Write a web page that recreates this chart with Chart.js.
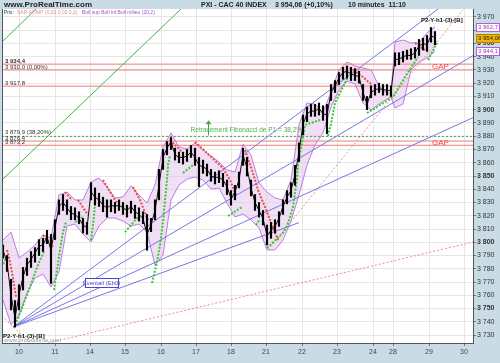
<!DOCTYPE html>
<html>
<head>
<meta charset="utf-8">
<title>PXI - CAC 40 INDEX</title>
<script src="https://cdn.jsdelivr.net/npm/chart.js@4.4.1/dist/chart.umd.min.js"></script>
<style>
  html, body { margin: 0; padding: 0; background: #c9dce5; }
  #wrap { position: relative; width: 500px; height: 363px; }
</style>
</head>
<body>
<div id="wrap"><canvas id="cac" width="500" height="363"></canvas></div>
<script>
'use strict';

// Axis labels
const dayLabels = ['10', '11', '14', '15', '16', '17', '18', '21', '22', '23', '24', '28', '29', '30'];
const dayTicks = [4, 13, 21.75, 30.5, 39.5, 48.25, 57, 65.75, 74.75, 83.5, 92.5, 97.5, 106.5, 115.25];
const priceTicks = [3730, 3740, 3750, 3760, 3770, 3780, 3790, 3800, 3810, 3820, 3830, 3840, 3850,
  3860, 3870, 3880, 3890, 3900, 3910, 3920, 3930, 3940, 3950, 3960, 3970];

// 10 minute bars (one sample every few bars)
const priceClose = [
  3794, 3785, 3760, 3743, 3760, 3774, 3783, 3787, 3792, 3797,
  3798, 3804, 3794, 3811, 3827, 3830, 3826, 3822, 3821, 3818,
  3813, 3811, 3838, 3834, 3832, 3828, 3826, 3828, 3827, 3828,
  3826, 3824, 3827, 3823, 3821, 3818, 3806, 3813, 3824, 3843,
  3864, 3871, 3876, 3866, 3864, 3864, 3865, 3868, 3864, 3858,
  3857, 3855, 3850, 3849, 3849, 3847, 3842, 3833, 3838, 3847,
  3866, 3856, 3841, 3830, 3824, 3818, 3805, 3809, 3812, 3818,
  3827, 3834, 3839, 3851, 3868, 3889, 3897, 3899, 3899, 3901,
  3897, 3896, 3913, 3918, 3924, 3928, 3929, 3927, 3926, 3925,
  3913, 3904, 3913, 3915, 3916, 3915, 3915, 3914, 3938, 3938,
  3940, 3941, 3941, 3943, 3948, 3950, 3949, 3956, 3954.06
];
const priceHigh = [
  3798, 3790, 3772, 3756, 3768, 3781, 3788, 3793, 3796, 3802,
  3803, 3809, 3806, 3817, 3832, 3836, 3832, 3827, 3826, 3823,
  3818, 3815, 3845, 3841, 3837, 3834, 3832, 3832, 3830, 3832,
  3830, 3828, 3831, 3828, 3826, 3823, 3821, 3818, 3832, 3855,
  3870, 3876, 3879, 3871, 3868, 3868, 3870, 3873, 3871, 3864,
  3862, 3859, 3855, 3853, 3854, 3852, 3847, 3839, 3843, 3853,
  3871, 3864, 3847, 3836, 3830, 3824, 3813, 3815, 3817, 3823,
  3832, 3839, 3845, 3858, 3875, 3896, 3902, 3904, 3904, 3905,
  3903, 3904, 3919, 3922, 3928, 3932, 3933, 3932, 3931, 3929,
  3919, 3910, 3918, 3919, 3920, 3919, 3919, 3918, 3943, 3943,
  3944, 3945, 3946, 3947, 3953, 3954, 3956, 3962, 3959
];
const priceLow = [
  3788, 3778, 3749, 3736, 3749, 3764, 3775, 3781, 3785, 3790,
  3793, 3799, 3769, 3802, 3821, 3824, 3821, 3817, 3817, 3814,
  3807, 3806, 3832, 3828, 3827, 3823, 3819, 3823, 3822, 3824,
  3821, 3819, 3822, 3818, 3816, 3814, 3794, 3808, 3817, 3832,
  3855, 3866, 3870, 3862, 3860, 3859, 3861, 3864, 3858, 3842,
  3852, 3850, 3846, 3844, 3845, 3842, 3836, 3828, 3832, 3841,
  3858, 3850, 3835, 3824, 3819, 3813, 3798, 3803, 3807, 3812,
  3821, 3829, 3834, 3843, 3861, 3881, 3891, 3895, 3895, 3896,
  3892, 3882, 3907, 3913, 3919, 3923, 3924, 3922, 3922, 3920,
  3907, 3900, 3909, 3911, 3913, 3911, 3911, 3910, 3933, 3934,
  3936, 3938, 3938, 3939, 3941, 3945, 3944, 3951, 3949
];

// Bollinger (20,2)
const bollX = [0, 2, 4, 6, 8, 10, 12, 14, 16, 18, 20, 22, 24, 26, 28, 30, 32, 34, 36, 38, 40, 42, 44, 46, 48,
  50, 52, 54, 56, 58, 60, 62, 64, 66, 68, 70, 72, 74, 76, 78, 80, 82, 84, 86, 88, 90, 92, 94, 96, 97,
  98, 100, 102, 104, 106, 108];
const bollUp = [3801.7, 3807.7, 3788.1, 3792.6, 3797.9, 3805.5, 3803.2, 3835.7, 3837.9, 3831.9, 3831.9,
  3845.5, 3848.5, 3841.7, 3833.4, 3834.2, 3842.5, 3835.7, 3829.6, 3843.2, 3872, 3882.5, 3871.9, 3870.4,
  3874.9, 3869.6, 3865.1, 3860.6, 3854.5, 3853, 3874, 3865.8, 3844.7, 3837.9, 3833.4, 3831.9, 3847,
  3888.5, 3905.1, 3904.3, 3897.5, 3913.4, 3930, 3936, 3933, 3931.5, 3930, 3917.9, 3912.6, 3912.6,
  3951.1, 3952.6, 3950.4, 3950.4, 3958, 3962.7];
const bollLow = [3756.4, 3738, 3745, 3761.7, 3773, 3776, 3766.2, 3777.6, 3812.3, 3813.8, 3806.2,
  3800.2, 3812.3, 3818.3, 3818.3, 3816, 3812.3, 3813.8, 3807.7, 3782.8, 3790.4, 3831.9, 3843.2, 3847.7,
  3849.2, 3847, 3840.2, 3840.9, 3829.6, 3819.1, 3821.3, 3816.8, 3810.8, 3794.2, 3794.2, 3801.7, 3816,
  3835.7, 3858.3, 3873.4, 3882.5, 3902.1, 3914.9, 3921.7, 3919.4, 3905.1, 3899.8, 3904.3, 3908.1, 3909.6,
  3901.3, 3904.3, 3930, 3936, 3939.1, 3944.1];

// SAR AT/MP (null = break between runs)
const sarGreenX = [0, 0.75, null, 3, 4.25, 5.5, 6.75, 8, 9.25, 10.25, null, 12.75, 13.5, 14.25, 15, 15.75, null,
  18, 20, null, 22, 22.5, 23, null, 30.5, 33.75, null, 37.25, 38.5, 39.25, 40, 40.5, 41, 41.25, 41.75, null,
  45, 47.5, null, 56.25, 59.75, null, 63.25, 64.25, null, 66, 70, 71, 71.75, 72.5, 73, 73.5, 73.75, 74.25,
  74.75, 75.25, 75.5, 79.25, null, 81.25, 82, 82.5, 83, 86.25, null, 91, 97.5, 100.5, 103.75, null, 106.25, 108.5];
const sarGreenV = [3783.6, 3788.1, null, 3737.6, 3746.6, 3756.4, 3766.2, 3776.8, 3786.6, 3792.6, null,
  3764, 3779.1, 3794.2, 3807.7, 3815.3, null, 3815.3, 3819.1, null, 3801.7, 3813, 3828.1, null,
  3807.7, 3819.1, null, 3769.3, 3785.1, 3797.9, 3815.3, 3831.9, 3847, 3858.3, 3865.8, null,
  3852.3, 3858.3, null, 3819.8, 3826.6, null, 3813, 3817.5, null, 3795.7, 3807, 3812.3, 3819.1, 3826.6,
  3837.2, 3848.5, 3858.3, 3867.4, 3874.9, 3884, 3888.5, 3892.3, null, 3880.2, 3889.2, 3897.5, 3905.1,
  3924.7, null, 3897.5, 3909.6, 3924.7, 3939.8, null, 3937.5, 3950.4];
const sarRedX = [1, 1.75, 2.5, 3.25, null, 10, 12.5, null, 15.5, 17.25, null, 18.75, 21.25, null, 25, 28.5, null,
  32.5, 34.25, 36.25, null, 41.75, 45.5, null, 48, 55, 56.75, 58.25, null, 60.5, 62.25, 63.75, 65.5, 67.25,
  68.75, null, 86.75, 90, 92.25, null, 103, 105.5];
const sarRedV = [3794.2, 3785.1, 3773, 3758.7, null, 3805.5, 3796.4, null, 3837.9, 3831.9, null,
  3831.9, 3820.6, null, 3847, 3829.6, null, 3841.7, 3831.9, 3816.8, null, 3877.2, 3865.8, null,
  3875.7, 3856, 3847, 3835.7, null, 3869.6, 3854.5, 3839.4, 3826.6, 3813, 3801.7, null,
  3931.5, 3924.7, 3918.7, null, 3950.4, 3945.1];

// drawn objects: fan from the low, steep channel, dotted guides, levels
const fanOrigin = [2.5, 3736];
const fanEndX = [117.5, 117.5, 117.5, 74];
const fanEndV = [3995.7, 3940.8, 3894.0, 3814.8];
const greenLines = [[-0.25, 3951.1, 8.25, 3976], [-0.25, 3847, 44.5, 3976]];
const redDotLines = [[66.25, 3794.2, 115, 3975.3], [11.25, 3724, 117.5, 3800.2], [-0.25, 3744.3, 6.75, 3724]];
const hLevels = [3934.4, 3930.0, 3917.8, 3876.4, 3873.2];
const hLabels = ['3 934,4', '3 930,0 (0,00%)', '3 917,8', '3 876,4', '3 873,2'];
const fibLevel = 3879.9;
const fibLabel = '3 879,9 (38,20%)';
const gapLevels = [3932.2, 3874.8];
const lastValues = [3962.7, 3954.06, 3944.1];
const lastLabels = ['3 962,7', '3 954,06', '3 944,1'];

const X_MIN = -0.25, X_MAX = 117.5;
const FONT = "'Liberation Sans', Arial, sans-serif";

function fmt(v) {
  const s = String(v);
  return s.slice(0, s.length - 3) + ' ' + s.slice(-3);
}
function xy(xs, vs) {
  return xs.map(function (x, i) { return { x: x === null ? xs[i - 1] : x, y: vs[i] }; });
}
function seg(x1, v1, x2, v2) {
  return [{ x: x1, y: v1 }, { x: x2, y: v2 }];
}
function line(data, color, extra) {
  return Object.assign({
    type: 'line', data: data, borderColor: color, borderWidth: 1,
    pointRadius: 0, fill: false, spanGaps: false, order: 7
  }, extra || {});
}

const datasets = [];
datasets.push(line(xy(bollX, bollUp), '#bd7ce6', { order: 10 }));
datasets.push(line(xy(bollX, bollLow), '#bd7ce6', { order: 10, fill: '-1', backgroundColor: 'rgba(228,192,236,0.5)' }));
hLevels.forEach(function (v) {
  datasets.push(line(seg(X_MIN, v, X_MAX, v), '#f07c7c', { order: 8 }));
});
datasets.push(line(seg(X_MIN, fibLevel, X_MAX, fibLevel), '#3fa83f', { order: 8, borderDash: [2, 2] }));
fanEndV.forEach(function (v, i) {
  datasets.push(line(seg(fanOrigin[0], fanOrigin[1], fanEndX[i], v), '#7a76e2'));
});
greenLines.forEach(function (l) {
  datasets.push(line(seg(l[0], l[1], l[2], l[3]), '#3dba3d'));
});
redDotLines.forEach(function (l) {
  datasets.push(line(seg(l[0], l[1], l[2], l[3]), '#f08c8c', { borderDash: [2, 2] }));
});
datasets.push(line(xy(sarGreenX, sarGreenV), '#2fcb2f', { order: 3, borderWidth: 2, borderDash: [2, 1.5] }));
datasets.push(line(xy(sarRedX, sarRedV), '#ee4a4a', { order: 3, borderWidth: 2, borderDash: [2, 1.5] }));
datasets.push({
  type: 'bar', order: 1, backgroundColor: '#000', barThickness: 1.5,
  data: priceClose.map(function (c, i) { return { x: i, y: [priceLow[i], priceHigh[i]] }; })
});
datasets.push(line(priceClose.map(function (c, i) { return { x: i, y: c }; }), '#111', { order: 1 }));

function text(ctx, s, x, y, font, color, align, base) {
  ctx.font = font;
  ctx.fillStyle = color;
  ctx.textAlign = align || 'left';
  ctx.textBaseline = base || 'alphabetic';
  ctx.fillText(s, x, y);
}

const decor = {
  id: 'decor',
  beforeDraw: function (chart) {
    const a = chart.chartArea, ctx = chart.ctx;
    ctx.save();
    ctx.fillStyle = '#fff';
    ctx.fillRect(a.left, a.top, a.right - a.left, a.bottom - a.top);
    ctx.restore();
  },
  afterDraw: function (chart) {
    const a = chart.chartArea, ctx = chart.ctx;
    const xs = chart.scales.x, ys = chart.scales.y;
    ctx.save();
    // frame
    ctx.strokeStyle = '#555';
    ctx.lineWidth = 1;
    ctx.beginPath();
    ctx.moveTo(a.left + 0.5, a.top);
    ctx.lineTo(a.left + 0.5, a.bottom);
    ctx.stroke();

    // title bar
    const tf = 'bold 7px ' + FONT;
    text(ctx, 'www.ProRealTime.com', 4, 5, 'bold 8px ' + FONT, '#222', 'left', 'middle');
    text(ctx, 'PXI - CAC 40 INDEX', 201, 5, tf, '#222', 'left', 'middle');
    text(ctx, '3 954,06 (+0,10%)', 275, 5, tf, '#222', 'left', 'middle');
    text(ctx, '10 minutes  11:10', 348, 5, tf, '#222', 'left', 'middle');

    // indicator legend
    const lf = '5px ' + FONT;
    text(ctx, 'Prix:', 4, a.top + 4, lf, '#333', 'left', 'middle');
    text(ctx, 'SAR AT/MP (0,02 0,02 0,2)', 17, a.top + 4, lf, '#f08a8a', 'left', 'middle');
    text(ctx, 'Boll sup Boll inf Boll milieu (20,2)', 82, a.top + 4, lf, '#b04cd8', 'left', 'middle');

    // level labels
    hLevels.forEach(function (v, i) {
      text(ctx, hLabels[i], a.left + 3, ys.getPixelForValue(v) - 1,
        (i === 0 ? 'bold ' : '') + '6px ' + FONT, '#333');
    });
    text(ctx, fibLabel, a.left + 3, ys.getPixelForValue(fibLevel) - 2, '6px ' + FONT, '#333');

    // GAP labels
    gapLevels.forEach(function (v) {
      text(ctx, 'GAP', xs.getPixelForValue(107.25), ys.getPixelForValue(v), '8px ' + FONT, '#f04040', 'left', 'middle');
    });

    // Fibonacci retracement note with arrow
    const fy = ys.getPixelForValue(fibLevel);
    text(ctx, 'Retracement Fibonacci de P1 = 38,2%', xs.getPixelForValue(46.9), fy - 4, '6.5px ' + FONT, '#4cb04c');
    const ax = Math.round(xs.getPixelForValue(51.25)) + 0.5, ay = ys.getPixelForValue(3892);
    ctx.strokeStyle = '#3da83d';
    ctx.fillStyle = '#3da83d';
    ctx.beginPath();
    ctx.moveTo(ax, fy - 1);
    ctx.lineTo(ax, ay + 3);
    ctx.stroke();
    ctx.beginPath();
    ctx.moveTo(ax, ay);
    ctx.lineTo(ax - 3, ay + 4);
    ctx.lineTo(ax + 3, ay + 4);
    ctx.closePath();
    ctx.fill();

    // fan label box
    const bx1 = xs.getPixelForValue(20.5), bx2 = xs.getPixelForValue(28.75);
    const by1 = ys.getPixelForValue(3773), by2 = ys.getPixelForValue(3766.2);
    ctx.fillStyle = '#fff';
    ctx.fillRect(bx1, by1, bx2 - bx1, by2 - by1);
    ctx.strokeStyle = '#4a46c8';
    ctx.strokeRect(Math.round(bx1) + 0.5, Math.round(by1) + 0.5, Math.round(bx2 - bx1), Math.round(by2 - by1));
    text(ctx, 'Éventail (Eb0)', (bx1 + bx2) / 2, (by1 + by2) / 2 + 0.5, '6px ' + FONT, '#4a46c8', 'center', 'middle');

    // wave labels
    const pf = 'bold 6px ' + FONT;
    text(ctx, 'P2-Y-h1-(3)-[B]', xs.getPixelForValue(104.5), ys.getPixelForValue(3967.7), pf, '#111', 'left', 'middle');
    text(ctx, 'P2-Y-h1-(3)-[B]', a.left + 1, ys.getPixelForValue(3729.3), pf, '#111', 'left', 'middle');
    text(ctx, 'www.prorealtime.com', a.left + 2, a.bottom - 3, '6px ' + FONT, '#999', 'left', 'middle');

    // last value boxes on the price axis
    lastValues.forEach(function (v, i) {
      const py = Math.round(ys.getPixelForValue(v));
      ctx.font = '6px ' + FONT;
      const w = ctx.measureText(lastLabels[i]).width + 3;
      const gold = i === 1;
      ctx.fillStyle = gold ? '#f2b400' : '#fff';
      ctx.fillRect(a.right + 3, py - 4, w, 8);
      ctx.strokeStyle = gold ? '#b08000' : '#b060d8';
      ctx.strokeRect(a.right + 3.5, py - 3.5, w, 8);
      text(ctx, lastLabels[i], a.right + 5, py + 0.5, '6px ' + FONT, gold ? '#222' : '#9a3cc8', 'left', 'middle');
    });
    ctx.restore();
  }
};

new Chart(document.getElementById('cac'), {
  type: 'line',
  data: { datasets: datasets },
  options: {
    responsive: false,
    animation: false,
    devicePixelRatio: 1,
    layout: { padding: { left: 2, top: 9, right: 0, bottom: 0 } },
    plugins: { legend: { display: false }, tooltip: { enabled: false } },
    elements: { point: { radius: 0 }, line: { tension: 0 } },
    scales: {
      x: {
        type: 'linear', min: X_MIN, max: X_MAX, offset: false,
        afterBuildTicks: function (axis) { axis.ticks = dayTicks.map(function (v) { return { value: v }; }); },
        afterFit: function (axis) { axis.height = 20; },
        grid: { color: '#e6e6e6', tickColor: '#777', tickLength: 3, offset: false },
        border: { color: '#555' },
        ticks: {
          callback: function (v, i) { return dayLabels[i]; },
          color: '#444', font: { size: 7, family: FONT }, maxRotation: 0, autoSkip: false, padding: 2
        }
      },
      y: {
        type: 'linear', position: 'right', min: 3724, max: 3976,
        afterBuildTicks: function (axis) { axis.ticks = priceTicks.map(function (v) { return { value: v }; }); },
        afterFit: function (axis) { axis.width = 27; },
        grid: { color: '#e6e6e6', tickColor: '#777', tickLength: 3 },
        border: { color: '#555' },
        ticks: {
          callback: function (v) { return fmt(v); },
          color: '#333', padding: 1,
          font: function (ctx) {
            const bold = ctx.tick && ctx.tick.value % 50 === 0;
            return { size: 7, family: FONT, weight: bold ? 'bold' : 'normal' };
          }
        }
      }
    }
  },
  plugins: [decor]
});
</script>
</body>
</html>
